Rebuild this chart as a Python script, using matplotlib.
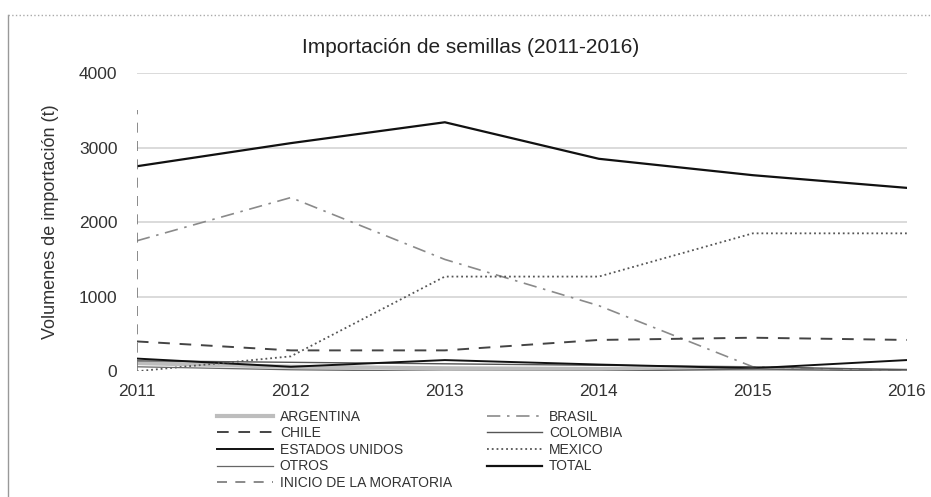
import matplotlib.pyplot as plt
from matplotlib.lines import Line2D

plt.rcParams['font.family'] = ['Liberation Sans', 'DejaVu Sans']

anios = [2011, 2012, 2013, 2014, 2015, 2016]

argentina = [110, 60, 40, 30, 20, 10]
brasil = [1750, 2330, 1500, 880, 60, 0]
chile = [400, 280, 280, 420, 450, 420]
colombia = [140, 120, 100, 80, 60, 20]
estados_unidos = [170, 60, 150, 90, 40, 150]
mexico = [0, 200, 1270, 1270, 1850, 1850]
otros = [60, 20, 0, 0, 30, 0]
total = [2750, 3060, 3340, 2850, 2630, 2460]

moratoria_x = [2011, 2011]
moratoria_y = [0, 3500]

y_ticks = [0, 1000, 2000, 3000, 4000]


def main():
    fig = plt.figure(figsize=(9.31, 4.97), dpi=100)
    ax = fig.add_axes([0.147, 0.253, 0.827, 0.6])

    for y in y_ticks[1:]:
        ax.axhline(y, color='#d4d4d4', lw=1.2, zorder=0)

    h_arg, = ax.plot(anios, argentina, color='#bdbdbd', lw=3, label='ARGENTINA')
    h_bra, = ax.plot(anios, brasil, color='#8a8a8a', lw=1.2,
                     dashes=(8, 4, 1.5, 4), label='BRASIL')
    h_chi, = ax.plot(anios, chile, color='#444444', lw=1.4,
                     dashes=(6, 5), label='CHILE')
    h_col, = ax.plot(anios, colombia, color='#555555', lw=1, label='COLOMBIA')
    h_eeuu, = ax.plot(anios, estados_unidos, color='#111111', lw=1.4,
                      label='ESTADOS UNIDOS')
    h_mex, = ax.plot(anios, mexico, color='#555555', lw=1.3, ls=':',
                     label='MEXICO')
    h_otr, = ax.plot(anios, otros, color='#666666', lw=0.9, label='OTROS')
    h_tot, = ax.plot(anios, total, color='#111111', lw=1.6, label='TOTAL')
    h_mor, = ax.plot(moratoria_x, moratoria_y, color='#777777', lw=1.2,
                     dashes=(6, 5), label='INICIO DE LA MORATORIA')

    ax.set_xlim(2011, 2016)
    ax.set_ylim(0, 4000)
    ax.set_yticks(y_ticks)
    ax.set_xticks(anios)
    ax.tick_params(length=0, labelsize=12.5, colors='#333333')
    ax.tick_params(axis='y', pad=14)
    ax.tick_params(axis='x', pad=9)
    for s in ax.spines.values():
        s.set_visible(False)

    ax.set_ylabel('Volumenes de importación (t)', fontsize=13, color='#333333',
                  labelpad=14)
    fig.text(0.505, 0.905, 'Importación de semillas (2011-2016)',
             ha='center', va='center', fontsize=15, color='#222222')

    handles = [h_arg, h_chi, h_eeuu, h_otr, h_mor, h_bra, h_col, h_mex, h_tot]
    fig.legend(handles=handles, ncol=2, loc='upper left',
               bbox_to_anchor=(0.226, 0.19), frameon=False, fontsize=10,
               handlelength=4.0, handletextpad=0.5, columnspacing=2.5,
               labelspacing=0.19, borderpad=0, labelcolor='#333333')

    # borde del recorte escaneado
    fig.add_artist(Line2D([0.009, 0.009], [0, 0.97], transform=fig.transFigure,
                          color='#999999', lw=1))
    fig.add_artist(Line2D([0.009, 1], [0.97, 0.97], transform=fig.transFigure,
                          color='#aaaaaa', lw=1, ls=':'))

    fig.savefig('out.png', dpi=100)


if __name__ == "__main__":
    main()
